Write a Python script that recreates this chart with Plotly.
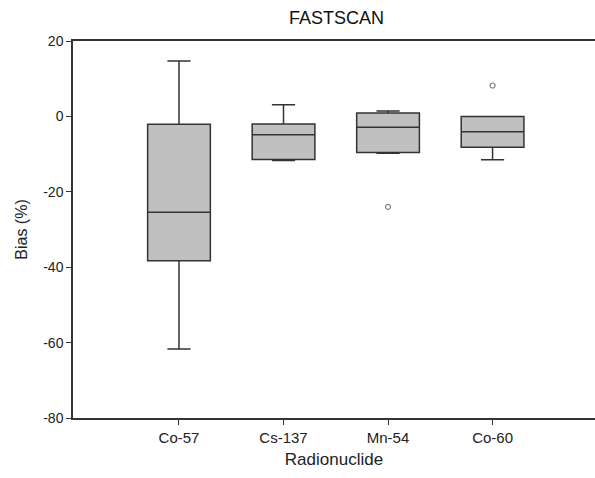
import plotly.graph_objects as go

categories = ["Co-57", "Cs-137", "Mn-54", "Co-60"]
q1 = [-38.3, -11.4, -9.6, -8.2]
median = [-25.4, -4.9, -2.9, -4.1]
q3 = [-2.1, -2.0, 0.9, 0.0]
lowerfence = [-61.7, -11.7, -9.8, -11.5]
upperfence = [14.7, 3.1, 1.4, 0.0]
outlier_x = ["Mn-54", "Co-60"]
outlier_y = [-24.0, 8.2]
y_ticks = [20, 0, -20, -40, -60, -80]
y_ticktext = ["20", "0", "-20", "-40", "-60", "-80"]

font = "Arial, Liberation Sans, sans-serif"
line_col = "#333333"

fig = go.Figure()
fig.add_trace(go.Box(
    x=categories, q1=q1, median=median, q3=q3,
    lowerfence=lowerfence, upperfence=upperfence,
    fillcolor="#c0c0c0", line=dict(color=line_col, width=1.5),
    width=0.6, whiskerwidth=0.37, boxpoints=False, showlegend=False,
    hoverinfo="skip",
))
fig.add_trace(go.Scatter(
    x=outlier_x, y=outlier_y, mode="markers",
    marker=dict(symbol="circle-open", size=5, color="#808080", line=dict(width=1.2)),
    showlegend=False, hoverinfo="skip",
))

fig.update_layout(
    width=595, height=478,
    margin=dict(l=73, r=0, t=41, b=60),
    paper_bgcolor="white", plot_bgcolor="white",
    font=dict(family=font, color="#222222", size=14),
    title=dict(text="FASTSCAN", x=336.5 / 595, xanchor="center", y=1 - 18 / 478, yanchor="middle",
               font=dict(size=18, family=font, color="#111111")),
)
fig.update_xaxes(
    type="category", categoryorder="array", categoryarray=categories,
    range=[-1.014, 3.98], showgrid=False, zeroline=False,
    showline=True, linecolor=line_col, linewidth=1.5, mirror=True,
    ticks="outside", ticklen=5, tickcolor=line_col, tickwidth=1.2,
    tickfont=dict(size=15),
    title=dict(text="Radionuclide", font=dict(size=17), standoff=8),
)
fig.update_yaxes(
    range=[-80, 20], tickvals=y_ticks, ticktext=y_ticktext,
    showgrid=False, zeroline=False,
    showline=True, linecolor=line_col, linewidth=1.5,
    ticks="outside", ticklen=5, tickcolor=line_col, tickwidth=1.2,
    tickfont=dict(size=14),
    title=dict(text="Bias (%)", font=dict(size=16), standoff=12),
)

fig.write_html("out.html")
